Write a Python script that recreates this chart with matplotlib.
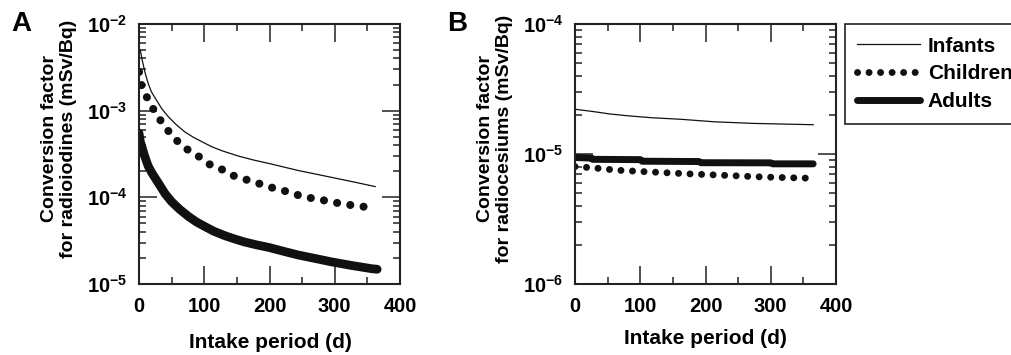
import numpy as np
import matplotlib
matplotlib.use("Agg")
import matplotlib.pyplot as plt
from matplotlib.ticker import MultipleLocator, LogLocator, NullFormatter, FuncFormatter
from matplotlib.lines import Line2D

plt.rcParams['font.family'] = ['Liberation Sans', 'DejaVu Sans']
plt.rcParams['font.weight'] = 'bold'
plt.rcParams['mathtext.fontset'] = 'custom'
plt.rcParams['mathtext.rm'] = 'Liberation Sans:bold'
plt.rcParams['mathtext.it'] = 'Liberation Sans:bold'
plt.rcParams['mathtext.bf'] = 'Liberation Sans:bold'
plt.rcParams['mathtext.default'] = 'bf'

# ---- Panel A: radioiodines ----
a_inf_days = [2, 5, 9, 14, 19, 25, 35, 45, 57, 70, 83, 96, 111, 127, 152,
              175, 200, 244, 270, 295, 330, 362]
a_inf_vals = [5.0e-3, 3.8e-3, 2.8e-3, 2.07e-3, 1.65e-3, 1.39e-3, 1.05e-3,
              8.5e-4, 6.9e-4, 5.7e-4, 4.95e-4, 4.4e-4, 3.85e-4, 3.45e-4,
              3.0e-4, 2.7e-4, 2.45e-4, 2.04e-4, 1.86e-4, 1.70e-4, 1.5e-4, 1.33e-4]

a_chi_days = [0, 5, 15, 25.5, 37, 47.5, 62, 75.6, 93.5, 110, 129, 146, 162,
              183, 199, 218, 238, 257, 275, 294, 315, 334, 360]
a_chi_vals = [2.8e-3, 1.8e-3, 1.3e-3, 9.3e-4, 7.0e-4, 5.5e-4, 4.2e-4, 3.5e-4,
              2.9e-4, 2.35e-4, 2.07e-4, 1.76e-4, 1.62e-4, 1.45e-4, 1.32e-4,
              1.22e-4, 1.09e-4, 1.0e-4, 9.5e-5, 8.9e-5, 8.3e-5, 8.0e-5, 7.5e-5]

a_adu_days = [0, 2, 5, 8, 14, 20, 30, 40, 50, 62, 76, 88, 101, 115, 132, 147,
              162, 180, 200, 222, 244, 270, 295, 325, 357, 365]
a_adu_vals = [5.5e-4, 4.4e-4, 3.7e-4, 3.1e-4, 2.3e-4, 1.9e-4, 1.45e-4, 1.1e-4,
              8.9e-5, 7.3e-5, 6.0e-5, 5.2e-5, 4.6e-5, 4.05e-5, 3.6e-5, 3.3e-5,
              3.05e-5, 2.83e-5, 2.63e-5, 2.38e-5, 2.16e-5, 1.97e-5, 1.8e-5,
              1.64e-5, 1.5e-5, 1.48e-5]

# ---- Panel B: radiocesiums ----
b_inf_days = [0, 28, 54, 80, 118, 162, 213, 272, 365]
b_inf_vals = [2.21e-5, 2.12e-5, 2.03e-5, 1.97e-5, 1.90e-5, 1.85e-5, 1.77e-5,
              1.72e-5, 1.68e-5]

b_chi_days = [0, 25, 65, 110, 170, 230, 290, 365]
b_chi_vals = [8.0e-6, 7.85e-6, 7.5e-6, 7.3e-6, 7.05e-6, 6.85e-6, 6.65e-6, 6.5e-6]

b_adu_days = [0, 25, 27, 100, 103, 190, 193, 300, 303, 365]
b_adu_vals = [9.4e-6, 9.3e-6, 9.1e-6, 9.05e-6, 8.8e-6, 8.75e-6, 8.57e-6,
              8.55e-6, 8.4e-6, 8.4e-6]

group_labels = ["Infants", "Children", "Adults"]

W, H = 1012, 355
fig = plt.figure(figsize=(W / 100, H / 100), dpi=100)
axA = fig.add_axes([139 / W, 71 / H, 261 / W, 260 / H])
axB = fig.add_axes([575 / W, 71 / H, 261 / W, 260 / H])

DOT = (0, (0.01, 1.65))
INK = '#111111'


def style_axis(ax, ylo, yhi):
    ax.set_yscale('log')
    ax.set_xlim(0, 400)
    ax.set_ylim(ylo, yhi)
    ax.xaxis.set_major_locator(MultipleLocator(100))
    ax.xaxis.set_minor_locator(MultipleLocator(50))
    ax.yaxis.set_major_locator(LogLocator(base=10, numticks=10))
    ax.yaxis.set_minor_locator(LogLocator(base=10, subs=np.arange(2, 10), numticks=20))
    ax.yaxis.set_minor_formatter(NullFormatter())
    ax.yaxis.set_major_formatter(FuncFormatter(lambda v, p: r'$10^{%d}$' % round(np.log10(v))))
    ax.tick_params(which='both', direction='in', top=True, right=True,
                   labelsize=14.5, width=1.1, color='#222222')
    ax.tick_params(which='major', length=13)
    ax.tick_params(which='minor', length=5)
    ax.tick_params(axis='x', which='major', pad=9.5)
    ax.tick_params(axis='y', which='major', pad=8.5)
    for s in ax.spines.values():
        s.set_linewidth(1.5)
        s.set_color('#222222')


style_axis(axA, 1e-5, 1e-2)
axA.plot(a_inf_days, a_inf_vals, color=INK, lw=0.9)
axA.plot(a_chi_days, a_chi_vals, color=INK, lw=5.8, linestyle=DOT, dash_capstyle='round')
axA.plot(a_adu_days, a_adu_vals, color=INK, lw=6.3, solid_capstyle='round')

style_axis(axB, 1e-6, 1e-4)
axB.plot(b_inf_days, b_inf_vals, color=INK, lw=0.9)
axB.plot(b_chi_days, b_chi_vals, color=INK, lw=5.0, linestyle=DOT, dash_capstyle='round')
axB.plot(b_adu_days, b_adu_vals, color=INK, lw=5.0, solid_capstyle='round')

# axis labels
fig.text(59 / W, 1 - 139 / H, "Conversion factor\nfor radioiodines (mSv/Bq)",
         rotation=90, ha='center', va='center', fontsize=14, linespacing=1.15,
         multialignment='center')
fig.text(495 / W, 1 - 139 / H, "Conversion factor\nfor radiocesiums (mSv/Bq)",
         rotation=90, ha='center', va='center', fontsize=14, linespacing=1.15,
         multialignment='center')
fig.text(270 / W, 1 - 343 / H, "Intake period (d)", ha='center', va='center', fontsize=15)
fig.text(705 / W, 1 - 339 / H, "Intake period (d)", ha='center', va='center', fontsize=15)

fig.text(21 / W, 1 - 24 / H, "A", ha='center', va='center', fontsize=20)
fig.text(457 / W, 1 - 24 / H, "B", ha='center', va='center', fontsize=20)

handles = [
    Line2D([], [], color=INK, lw=0.9),
    Line2D([], [], color=INK, lw=5.0, linestyle=DOT, dash_capstyle='round'),
    Line2D([], [], color=INK, lw=5.0, solid_capstyle='round'),
]
leg = fig.legend(handles, group_labels, loc='upper left',
                 bbox_to_anchor=(845 / W, 1 - 24 / H), bbox_transform=fig.transFigure,
                 frameon=True, fancybox=False, edgecolor='#222222', framealpha=1,
                 fontsize=15, handlelength=3.0, handletextpad=0.38,
                 borderpad=0.6, labelspacing=0.42, borderaxespad=0)
leg.get_frame().set_linewidth(1.2)

fig.savefig('out.png', dpi=100)
